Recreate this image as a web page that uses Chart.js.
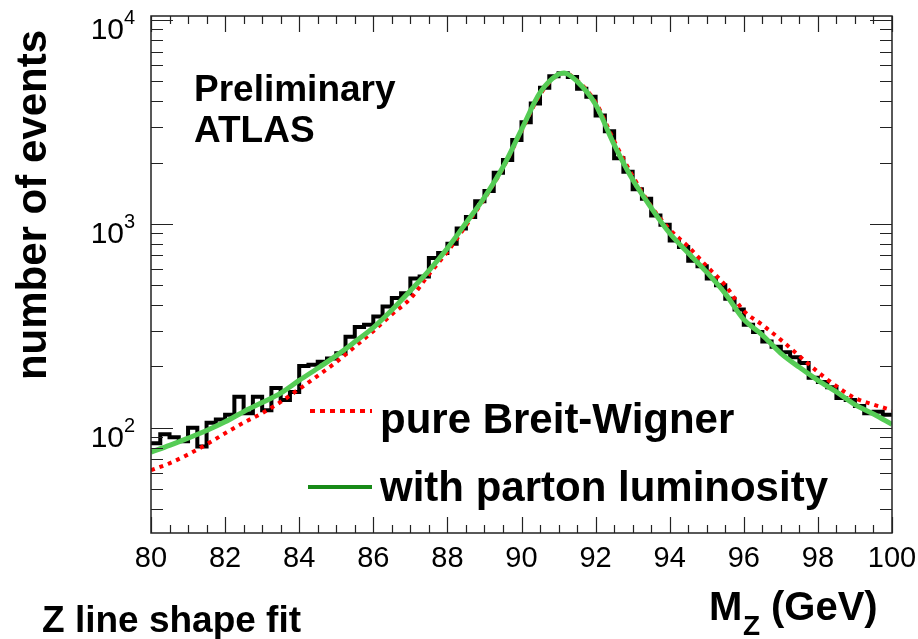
<!DOCTYPE html>
<html>
<head>
<meta charset="utf-8">
<script src="https://cdn.jsdelivr.net/npm/chart.js@4.4.1/dist/chart.umd.min.js"></script>
<style>
  html, body { margin: 0; padding: 0; background: #fff; }
  #c { display: block; }
</style>
</head>
<body>
<canvas id="c" width="918" height="639"></canvas>
<script>
// ---- data ----
const binStart = 80;      // GeV, lower edge of first bin
const binWidth = 0.25;    // GeV
const histCounts = [
  84, 93, 90, 86, 100, 81, 106, 110, 116, 142,
  118, 142, 122, 157, 137, 150, 201, 204, 211, 219,
  232, 280, 312, 320, 352, 394, 433, 457, 540, 552,
  680, 720, 800, 950, 1080, 1290, 1450, 1780, 2060, 2580,
  3150, 3900, 4650, 5300, 5480, 5250, 4600, 4200, 3400, 2850,
  2100, 1800, 1480, 1330, 1100, 990, 830, 770, 660, 620,
  540, 500, 430, 380, 320, 295, 265, 250, 235, 222,
  208, 176, 168, 158, 140, 137, 128, 118, 120, 116
];
const curveMass = [
  80, 80.5, 81, 81.5, 82, 82.5, 83, 83.5, 84, 84.5,
  85, 85.5, 86, 86.5, 87, 87.5, 88, 88.5, 89, 89.5,
  90, 90.5, 91, 91.15, 91.5, 92, 92.5, 93, 93.5, 94,
  94.5, 95, 95.5, 96, 96.5, 97, 97.5, 98, 98.5, 99,
  99.5, 100
];
const withLumi = [
  76, 82, 89, 97, 107, 120, 133, 148, 171, 196,
  226, 264, 310, 378, 470, 590, 760, 1010, 1350, 1900,
  2900, 4400, 5420, 5500, 5000, 3850, 2450, 1650, 1200, 900,
  720, 580, 455, 340, 285, 232, 198, 171, 150, 130,
  117, 104
];
const pureBW = [
  62, 67, 74, 83, 94, 106, 118, 134, 155, 180,
  210, 250, 298, 360, 430, 565, 730, 980, 1330, 1880,
  2850, 4300, 5420, 5500, 5050, 3950, 2550, 1720, 1220, 940,
  775, 620, 500, 375, 320, 270, 225, 188, 160, 140,
  130, 122
];
const xTickValues = [80, 82, 84, 86, 88, 90, 92, 94, 96, 98, 100];
const yDecades = [100, 1000, 10000];
const yExponents = ['2', '3', '4'];

// ---- build datasets ----
const histPoints = histCounts.map((c, i) => ({ x: binStart + i * binWidth, y: c }));
histPoints.push({ x: binStart + histCounts.length * binWidth, y: histCounts[histCounts.length - 1] });
const lumiPoints = curveMass.map((m, i) => ({ x: m, y: withLumi[i] }));
const bwPoints = curveMass.map((m, i) => ({ x: m, y: pureBW[i] }));

const FONT = '"Liberation Sans", Arial, Helvetica, sans-serif';

const rootDecor = {
  id: 'rootDecor',
  afterDraw(chart) {
    const { ctx, chartArea: a, scales: { x, y } } = chart;
    ctx.save();
    // frame
    ctx.strokeStyle = '#222';
    ctx.lineWidth = 1.5;
    ctx.strokeRect(a.left, a.top, a.right - a.left, a.bottom - a.top);

    // x ticks (inward, bottom and top)
    ctx.lineWidth = 1.2;
    for (let v = 80; v <= 100.001; v += 0.5) {
      const px = Math.round(x.getPixelForValue(v)) + 0.5;
      const major = Math.abs(v / 2 - Math.round(v / 2)) < 1e-6;
      const len = major ? 16 : 8;
      ctx.beginPath();
      ctx.moveTo(px, a.bottom); ctx.lineTo(px, a.bottom - len);
      ctx.moveTo(px, a.top); ctx.lineTo(px, a.top + len);
      ctx.stroke();
    }
    // y ticks (log, inward, left and right)
    for (let d = 10; d <= 10000; d *= 10) {
      for (let k = 1; k <= 9; k++) {
        const v = d * k;
        if (v < y.min || v > y.max) continue;
        const py = Math.round(y.getPixelForValue(v)) + 0.5;
        const len = k === 1 ? 22 : 12;
        ctx.beginPath();
        ctx.moveTo(a.left, py); ctx.lineTo(a.left + len, py);
        ctx.moveTo(a.right, py); ctx.lineTo(a.right - len, py);
        ctx.stroke();
      }
    }

    // y tick labels 10^n
    ctx.fillStyle = '#000';
    ctx.textBaseline = 'alphabetic';
    yDecades.forEach((v, i) => {
      const py = y.getPixelForValue(v);
      ctx.font = '30px ' + FONT;
      ctx.textAlign = 'right';
      ctx.fillText('10', 124, py + 19);
      ctx.font = '20px ' + FONT;
      ctx.textAlign = 'left';
      ctx.fillText(yExponents[i], 124, py + 4);
    });

    // y title
    ctx.save();
    ctx.translate(46, 30);
    ctx.rotate(-Math.PI / 2);
    ctx.font = 'bold 42px ' + FONT;
    ctx.textAlign = 'right';
    ctx.fillText('number of events', 0, 0);
    ctx.restore();

    // x title M_Z (GeV)
    ctx.textAlign = 'left';
    ctx.font = 'bold 40px ' + FONT;
    ctx.fillText('M', 709, 620);
    ctx.font = 'bold 28px ' + FONT;
    ctx.fillText('Z', 743, 635);
    ctx.font = 'bold 40px ' + FONT;
    ctx.fillText('(GeV)', 771, 620);

    // bottom-left caption
    ctx.font = 'bold 37px ' + FONT;
    ctx.fillText('Z line shape fit', 42, 632);

    // Preliminary ATLAS
    ctx.font = 'bold 37px ' + FONT;
    ctx.fillText('Preliminary', 194, 101);
    ctx.fillText('ATLAS', 194, 142);

    // legend
    ctx.lineWidth = 4;
    ctx.strokeStyle = '#ff0000';
    ctx.setLineDash([5, 5]);
    ctx.beginPath(); ctx.moveTo(310, 411); ctx.lineTo(372, 411); ctx.stroke();
    ctx.setLineDash([]);
    ctx.strokeStyle = '#178a17';
    ctx.beginPath(); ctx.moveTo(308, 487); ctx.lineTo(372, 487); ctx.stroke();
    ctx.font = 'bold 42px ' + FONT;
    ctx.fillStyle = '#000';
    ctx.fillText('pure Breit-Wigner', 380, 433);
    ctx.fillText('with parton luminosity', 380, 501);
    ctx.restore();
  }
};

new Chart(document.getElementById('c'), {
  type: 'line',
  data: {
    datasets: [
      {
        label: 'with parton luminosity',
        data: lumiPoints,
        borderColor: '#55cc55',
        borderWidth: 5,
        pointRadius: 0,
        cubicInterpolationMode: 'monotone',
        fill: false,
        order: 0
      },
      {
        label: 'pure Breit-Wigner',
        data: bwPoints,
        borderColor: '#ff0000',
        borderWidth: 4,
        borderDash: [4, 5],
        pointRadius: 0,
        cubicInterpolationMode: 'monotone',
        fill: false,
        order: 1
      },
      {
        label: 'data',
        data: histPoints,
        borderColor: '#000000',
        borderWidth: 4,
        pointRadius: 0,
        stepped: 'before',
        fill: false,
        order: 2
      }
    ]
  },
  options: {
    responsive: false,
    animation: false,
    devicePixelRatio: 1,
    layout: { padding: { left: 0, right: 26, top: 16, bottom: 0 } },
    plugins: { legend: { display: false }, tooltip: { enabled: false }, title: { display: false } },
    scales: {
      x: {
        type: 'linear',
        min: 80,
        max: 100,
        afterBuildTicks(scale) { scale.ticks = xTickValues.map(v => ({ value: v })); },
        afterFit(scale) { scale.height = 106; scale.paddingLeft = 0; scale.paddingRight = 0; },
        grid: { display: false, drawTicks: false },
        border: { display: false },
        ticks: {
          autoSkip: false,
          maxRotation: 0,
          padding: 9,
          color: '#000',
          font: { size: 29, family: FONT }
        }
      },
      y: {
        type: 'logarithmic',
        min: 30.5,
        max: 10460,
        afterFit(scale) { scale.width = 151; scale.paddingTop = 0; scale.paddingBottom = 0; },
        grid: { display: false, drawTicks: false },
        border: { display: false },
        ticks: { display: false }
      }
    }
  },
  plugins: [rootDecor]
});
</script>
</body>
</html>
